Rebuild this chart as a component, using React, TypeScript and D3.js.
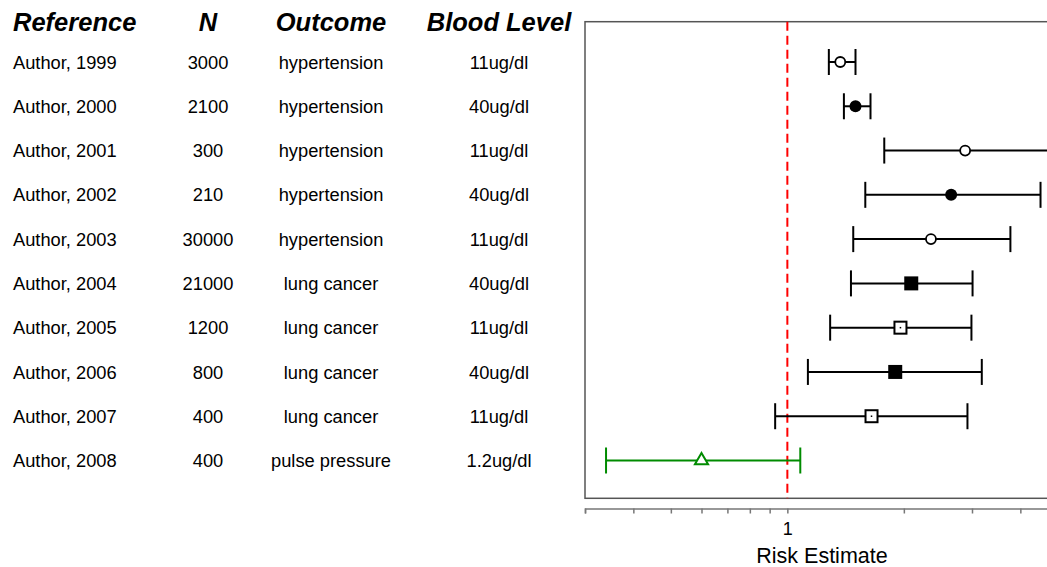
import React, { useRef, useEffect } from 'react';
import * as d3 from 'd3';

// study table
const refs = ['Author, 1999', 'Author, 2000', 'Author, 2001', 'Author, 2002', 'Author, 2003',
  'Author, 2004', 'Author, 2005', 'Author, 2006', 'Author, 2007', 'Author, 2008'];
const ns = ['3000', '2100', '300', '210', '30000', '21000', '1200', '800', '400', '400'];
const outcomes = ['hypertension', 'hypertension', 'hypertension', 'hypertension', 'hypertension',
  'lung cancer', 'lung cancer', 'lung cancer', 'lung cancer', 'pulse pressure'];
const levels = ['11ug/dl', '40ug/dl', '11ug/dl', '40ug/dl', '11ug/dl',
  '40ug/dl', '11ug/dl', '40ug/dl', '11ug/dl', '1.2ug/dl'];

// risk estimates and confidence limits
const est = [1.37, 1.50, 2.88, 2.65, 2.35, 2.09, 1.96, 1.90, 1.65, 0.60];
const lo = [1.28, 1.40, 1.78, 1.59, 1.48, 1.46, 1.29, 1.13, 0.93, 0.34];
const hi = [1.50, 1.64, 5.3, 4.51, 3.77, 3.01, 2.99, 3.18, 2.92, 1.08];

const headers = ['Reference', 'N', 'Outcome', 'Blood Level'];
const tickVals = [0.3, 0.4, 0.5, 0.6, 0.7, 0.8, 0.9, 1, 2, 3, 4, 5];

export default function App() {
  const svgRef = useRef();

  useEffect(() => {
    const w = 1047;
    const h = 567;
    const svg = d3.select(svgRef.current);
    svg.selectAll('*').remove();
    svg.attr('width', w).attr('height', h);

    const font = 'Liberation Sans, Arial, sans-serif';
    const left = 585;
    const perDecade = 387;
    const x = d3.scaleLog().domain([0.3, 5])
      .range([left, left + perDecade * Math.log10(5 / 0.3)]);
    const y = d3.scaleLinear().domain([0, refs.length - 1]).range([62, 460.5]);
    const boxTop = 21.7;
    const boxBottom = 498.3;

    // table
    const cols = [
      { x: 13, anchor: 'start', vals: refs },
      { x: 208, anchor: 'middle', vals: ns },
      { x: 331, anchor: 'middle', vals: outcomes },
      { x: 499, anchor: 'middle', vals: levels },
    ];
    const headX = [13, 208, 331, 499];
    svg.selectAll('.head')
      .data(headers)
      .join('text')
      .attr('x', (d, i) => headX[i])
      .attr('y', 22)
      .attr('dy', '0.36em')
      .attr('text-anchor', (d, i) => cols[i].anchor)
      .attr('font-family', font)
      .attr('font-size', 25.5)
      .attr('font-weight', 'bold')
      .attr('font-style', 'italic')
      .text((d) => d);

    cols.forEach((c) => {
      svg.append('g')
        .selectAll('text')
        .data(c.vals)
        .join('text')
        .attr('x', c.x)
        .attr('y', (d, i) => y(i))
        .attr('dy', '0.36em')
        .attr('text-anchor', c.anchor)
        .attr('font-family', font)
        .attr('font-size', 18.3)
        .text((d) => d);
    });

    // plot area
    const plot = svg.append('g');
    plot.append('rect')
      .attr('x', left)
      .attr('y', boxTop)
      .attr('width', 500)
      .attr('height', boxBottom - boxTop)
      .attr('fill', 'none')
      .attr('stroke', '#555')
      .attr('stroke-width', 1.5);

    plot.append('line')
      .attr('x1', x(1)).attr('x2', x(1))
      .attr('y1', boxTop).attr('y2', boxBottom)
      .attr('stroke', '#ff0000')
      .attr('stroke-width', 2)
      .attr('stroke-dasharray', '9,5');

    const color = (i) => (outcomes[i] === 'pulse pressure' ? '#008B00' : '#000');
    const cap = 13;
    const rows = plot.selectAll('.row')
      .data(est)
      .join('g')
      .attr('transform', (d, i) => `translate(0,${y(i)})`);

    rows.append('line')
      .attr('x1', (d, i) => x(lo[i]))
      .attr('x2', (d, i) => x(hi[i]))
      .attr('stroke', (d, i) => color(i))
      .attr('stroke-width', 2);
    rows.append('line')
      .attr('x1', (d, i) => x(lo[i])).attr('x2', (d, i) => x(lo[i]))
      .attr('y1', -cap).attr('y2', cap)
      .attr('stroke', (d, i) => color(i))
      .attr('stroke-width', 2);
    rows.append('line')
      .attr('x1', (d, i) => x(hi[i])).attr('x2', (d, i) => x(hi[i]))
      .attr('y1', -cap).attr('y2', cap)
      .attr('stroke', (d, i) => color(i))
      .attr('stroke-width', 2);

    rows.each(function (d, i) {
      const g = d3.select(this);
      const filled = levels[i] === '40ug/dl';
      const cx = x(d);
      if (outcomes[i] === 'hypertension') {
        g.append('circle')
          .attr('cx', cx)
          .attr('r', filled ? 6 : 5)
          .attr('fill', filled ? '#000' : '#fff')
          .attr('stroke', '#000')
          .attr('stroke-width', filled ? 0 : 1.8);
      } else if (outcomes[i] === 'lung cancer') {
        const s = filled ? 14 : 12;
        g.append('rect')
          .attr('x', cx - s / 2).attr('y', -s / 2)
          .attr('width', s).attr('height', s)
          .attr('fill', filled ? '#000' : '#fff')
          .attr('stroke', '#000')
          .attr('stroke-width', filled ? 0 : 2);
        if (!filled) {
          g.append('rect')
            .attr('x', cx - 0.75).attr('y', -0.75)
            .attr('width', 1.5).attr('height', 1.5)
            .attr('fill', '#000');
        }
      } else {
        const tri = d3.symbol().type(d3.symbolTriangle).size(75);
        g.append('path')
          .attr('d', tri())
          .attr('transform', `translate(${cx},0)`)
          .attr('fill', '#fff')
          .attr('stroke', color(i))
          .attr('stroke-width', 2);
      }
    });

    // axis
    const axis = d3.axisBottom(x)
      .tickValues(tickVals)
      .tickFormat((v) => (v === 1 ? '1' : ''))
      .tickSizeOuter(0)
      .tickSize(5);
    const ag = svg.append('g')
      .attr('transform', 'translate(0,508.5)')
      .call(axis);
    ag.select('.domain').attr('stroke', '#777').attr('stroke-width', 1.5);
    ag.selectAll('.tick line').attr('stroke', '#777').attr('stroke-width', 1.5);
    ag.selectAll('.tick text')
      .attr('font-family', font)
      .attr('font-size', 18)
      .attr('fill', '#000')
      .attr('dy', '1em');

    svg.append('text')
      .attr('x', 822)
      .attr('y', 555)
      .attr('dy', '0.36em')
      .attr('text-anchor', 'middle')
      .attr('font-family', font)
      .attr('font-size', 21.5)
      .text('Risk Estimate');
  }, []);

  return <svg ref={svgRef} style={{ position: 'absolute', left: 0, top: 0 }}></svg>;
}
